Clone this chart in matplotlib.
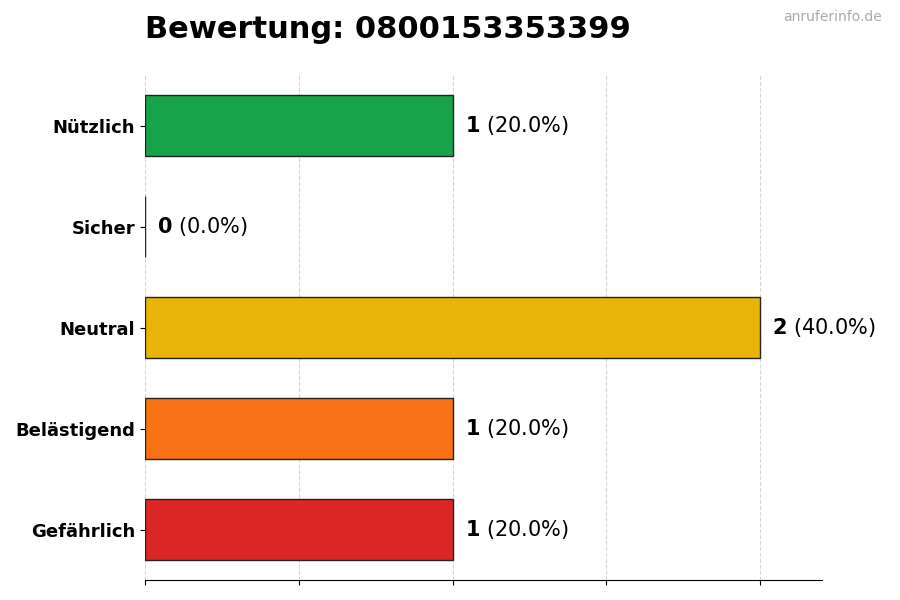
import matplotlib
matplotlib.use("Agg")
import matplotlib.pyplot as plt

categories = ["Nützlich", "Sicher", "Neutral", "Belästigend", "Gefährlich"]
counts = [1, 0, 2, 1, 1]
colors = ["#16a34a", "#22c55e", "#eab308", "#f97316", "#dc2626"]
total = sum(counts)

fig = plt.figure(figsize=(9, 6), dpi=100)
ax = fig.add_axes([0.161, 0.033, 0.752, 0.842])

ypos = list(range(len(categories)))[::-1]
ax.barh(ypos, counts, height=0.6, color=colors, edgecolor="#222222", linewidth=1, zorder=3)

for y, c in zip(ypos, counts):
    pct = c / total * 100
    ax.text(c + 0.04, y, rf"$\bf{{{c}}}$ ({pct:.1f}%)", va="center", ha="left", fontsize=15)

ax.set_yticks(ypos)
ax.set_yticklabels(categories, fontsize=13, fontweight="bold")
ax.set_xlim(0, 2.2)
ax.set_ylim(-0.5, 4.5)
ax.set_xticks([0, 0.5, 1, 1.5, 2])
ax.set_xticklabels([])
ax.grid(axis="x", linestyle="--", color="#cccccc", alpha=0.8, zorder=0)
for s in ["top", "right", "left"]:
    ax.spines[s].set_visible(False)

fig.text(0.161, 0.95, "Bewertung: 0800153353399", fontsize=22, fontweight="bold", ha="left", va="center")
fig.text(0.98, 0.972, "anruferinfo.de", fontsize=10, color="#aaaaaa", ha="right", va="center")

fig.savefig("out.png")
